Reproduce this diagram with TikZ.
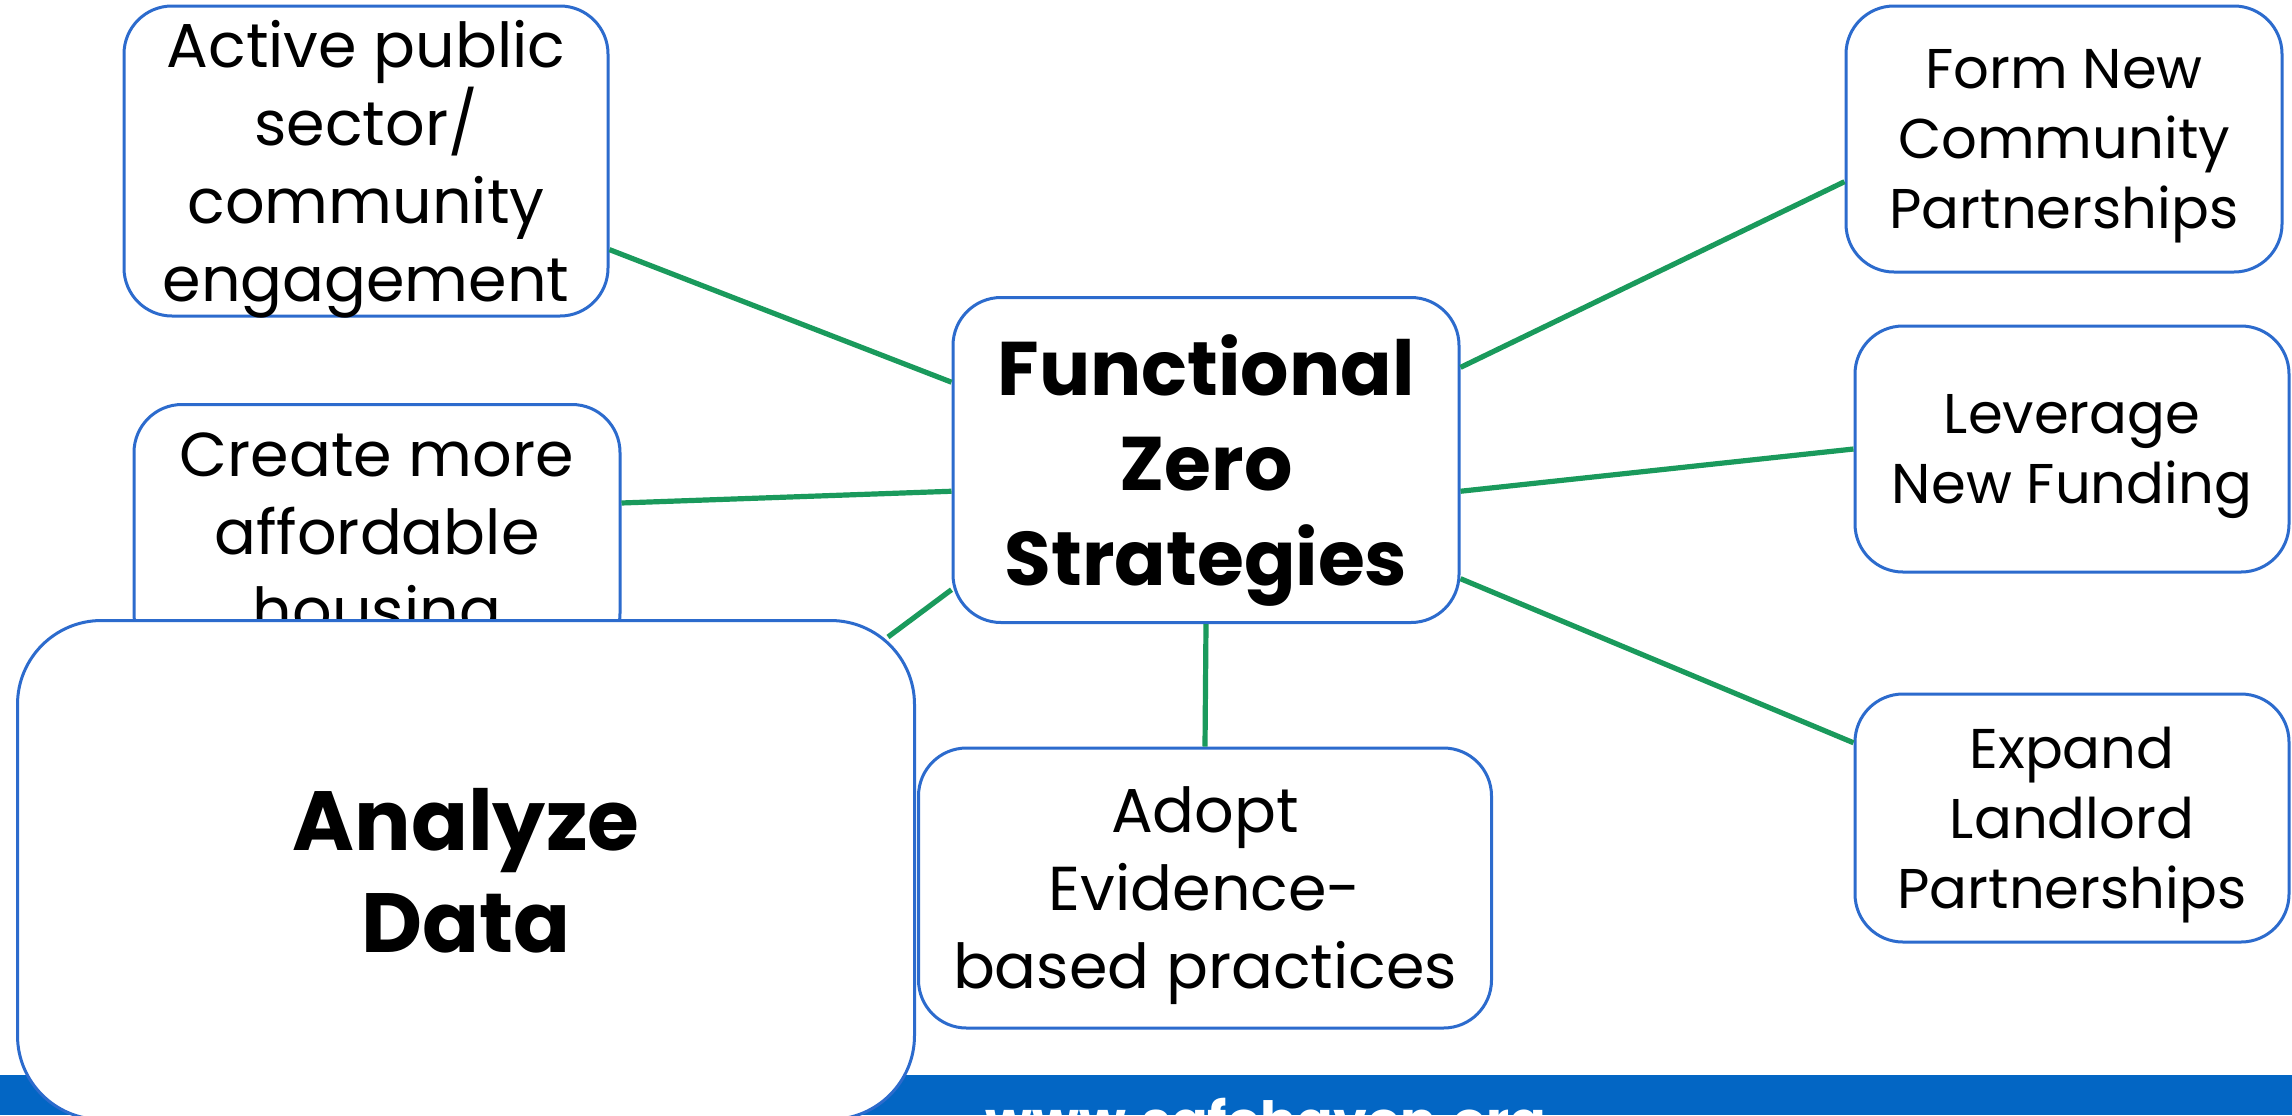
\documentclass[tikz,border=0pt]{standalone}
\usepackage{fontspec}
\setmainfont{Poppins}
\definecolor{boxblue}{RGB}{44,107,205}
\definecolor{barblue}{RGB}{3,102,196}
\definecolor{linkgreen}{RGB}{26,154,92}
\tikzset{
  box/.style={draw=boxblue, line width=1.5pt, fill=white, rounded corners=24pt, align=center, inner sep=0pt, text depth=0pt},
  link/.style={draw=linkgreen, line width=2.6pt},
  leftfont/.style={font=\fontsize{31}{39}\selectfont},
  rightfont/.style={font=\fontsize{28}{35}\selectfont},
  bigfont/.style={font=\fontsize{38}{47.5}\selectfont\bfseries},
}

\begin{document}
\begin{tikzpicture}[x=0.5pt,y=-0.5pt]
\useasboundingbox (0,0) rectangle (2292,1115);
\fill[white] (0,0) rectangle (2292,1115);
% Footer bar
\fill[barblue] (0,1075) rectangle (2292,1115);
\node[anchor=base, text=white, font=\fontsize{27}{32}\selectfont\bfseries] (url) at (1266,1140) {www.safehaven.org};
% Drawing boxes
\node[box, leftfont, minimum width=242pt, minimum height=155pt] (act) at (366,161) {Active public\\sector/\\community\\engagement};
\node[box, leftfont, minimum width=243pt, minimum height=128.5pt] (cre) at (377,533) {Create more\\affordable\\housing};
\node[box, font=\fontsize{42}{51}\selectfont\bfseries, minimum width=448.5pt, minimum height=249.5pt, rounded corners=42pt] (ana) at (466,870) {Analyze\\Data};
\node[box, bigfont, minimum width=253pt, minimum height=162.5pt] (fz) at (1206,460) {Functional\\Zero\\Strategies};
\node[box, leftfont, minimum width=286.5pt, minimum height=140pt] (adp) at (1205,888) {Adopt\\Evidence-\\based practices};
\node[box, rightfont, minimum width=218pt, minimum height=133pt] (form) at (2064,139) {Form New\\Community\\Partnerships};
\node[box, rightfont, minimum width=217pt, minimum height=123pt] (lev) at (2072,449) {Leverage\\New Funding};
\node[box, rightfont, minimum width=217pt, minimum height=124pt] (exp) at (2072,818) {Expand\\Landlord\\Partnerships};
% Done with boxes; drawing links
\draw[link] (act.-20) -- (fz.163);
\draw[link] (cre.7) -- (fz.187);
\draw[link] ([shift={(-28,18)}]ana.north east) -- (fz.207);
\draw[link] (fz.south) -- (adp.north);
\draw[link] (fz.20) -- (form.191);
\draw[link] (fz.-7) -- (lev.west);
\draw[link] (fz.-25) -- (exp.161);
\end{tikzpicture}
\end{document}
